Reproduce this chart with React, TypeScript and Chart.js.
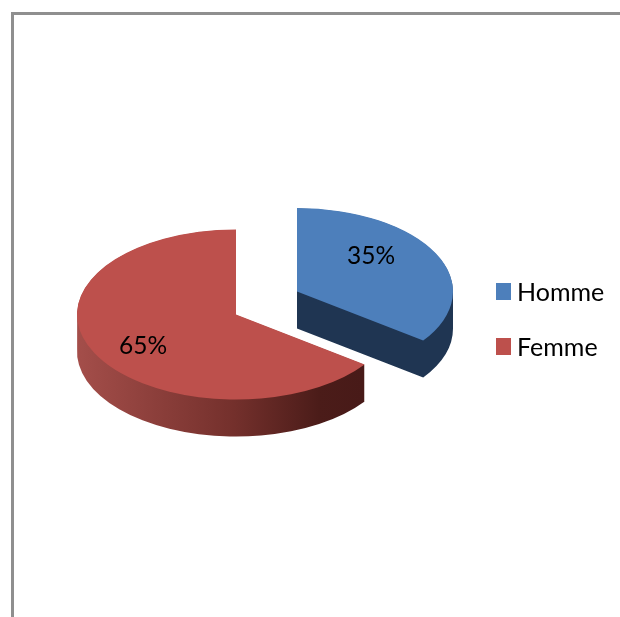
import React, { useEffect, useRef } from "react";
import { Chart, registerables } from "chart.js";

Chart.register(...registerables);

const categories = ["Homme", "Femme"];
const shares = [35, 65];
const topColors = ["#4d7fbb", "#bd504c"];
const sideColors = ["#1f3552", null];

const SQUASH = 0.535;
const DEPTH = 37;
const labelOffsets = [
  [74, -35],
  [-93, 32],
];
// The exploded slice: how far it is pulled from the pie's centre, and its radius.
const explode = { index: 0, dx: 61, dy: -23, radius: 156 };

const pie3d = {
  id: "pie3d",
  afterDatasetsUpdate(chart: any) {
    const arc = chart.getDatasetMeta(0).data[explode.index];
    arc.x += explode.dx;
    arc.y += explode.dy / SQUASH;
    arc.outerRadius = explode.radius;
  },
  beforeDatasetsDraw(chart: any) {
    const ctx = chart.ctx;
    const arcs = chart.getDatasetMeta(0).data;
    const cy = arcs[1].y;
    const grad = ctx.createLinearGradient(77, 0, 362, 0);
    grad.addColorStop(0, "#a44e4a");
    grad.addColorStop(0.55, "#74302c");
    grad.addColorStop(0.85, "#4b1c19");
    grad.addColorStop(1, "#481a18");
    ctx.save();
    ctx.translate(0, cy);
    ctx.scale(1, SQUASH);
    ctx.translate(0, -cy);
    arcs.forEach((arc: any, i: number) => {
      ctx.fillStyle = sideColors[i] || grad;
      ctx.beginPath();
      for (let d = DEPTH; d > 0; d -= 0.5) {
        const y = arc.y + d / SQUASH;
        ctx.moveTo(arc.x, y);
        ctx.arc(arc.x, y, arc.outerRadius, arc.startAngle, arc.endAngle);
        ctx.closePath();
      }
      ctx.fill("nonzero");
    });
  },
  afterDatasetsDraw(chart: any) {
    const ctx = chart.ctx;
    ctx.restore();
    const arcs = chart.getDatasetMeta(0).data;
    const cy = arcs[1].y;
    ctx.save();
    ctx.fillStyle = "#000";
    ctx.textAlign = "center";
    ctx.textBaseline = "middle";
    ctx.font = "24.5px Lato";
    arcs.forEach((arc: any, i: number) => {
      const screenY = cy + (arc.y - cy) * SQUASH;
      const o = labelOffsets[i];
      ctx.fillText(shares[i] + "%", arc.x + o[0], screenY + o[1]);
    });
    ctx.textAlign = "left";
    ctx.font = "25px Lato";
    categories.forEach((name, i) => {
      const y = 291.5 + i * 55;
      ctx.fillStyle = topColors[i];
      ctx.fillRect(496, y - 8.5, 15, 17);
      ctx.fillStyle = "#000";
      ctx.fillText(name, 517, y + 1);
    });
    ctx.restore();
  },
};

export default function App() {
  const ref = useRef<HTMLCanvasElement>(null);
  useEffect(() => {
    const chart = new Chart(ref.current!, {
      type: "pie",
      data: {
        labels: categories,
        datasets: [
          {
            data: shares,
            backgroundColor: topColors,
            borderWidth: 0,
            clip: false,
          } as any,
        ],
      },
      options: {
        animation: false,
        responsive: false,
        radius: 159,
        layout: { padding: { top: 12, right: 148 } },
        plugins: { legend: { display: false }, tooltip: { enabled: false } },
      } as any,
      plugins: [pie3d],
    });
    return () => chart.destroy();
  }, []);
  return (
    <div style={{ position: "fixed", left: 0, top: 0, width: 620, height: 617, background: "#fff", overflow: "hidden" }}>
      <canvas ref={ref} width={620} height={617} style={{ display: "block" }} />
      <div
        style={{
          position: "absolute",
          left: 11,
          top: 12,
          width: 620,
          height: 620,
          borderLeft: "3px solid #8f8f8f",
          borderTop: "3px solid #8f8f8f",
        }}
      />
    </div>
  );
}
